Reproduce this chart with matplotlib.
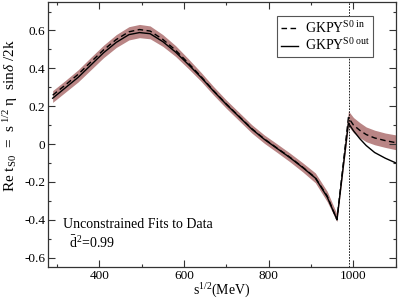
import numpy as np
import matplotlib
matplotlib.use('Agg')
import matplotlib.pyplot as plt
from matplotlib.ticker import MultipleLocator

plt.rcParams['font.family'] = ['Liberation Serif', 'DejaVu Serif']
plt.rcParams['mathtext.fontset'] = 'custom'
plt.rcParams['mathtext.rm'] = 'Liberation Serif'
plt.rcParams['mathtext.it'] = 'Liberation Serif:italic'

# sqrt(s) in MeV
energy = [290, 320, 350, 380, 410, 440, 470, 495, 520, 550, 580, 610, 640, 670, 700,
          730, 760, 790, 820, 850, 880, 910, 938, 961, 988, 1000, 1015, 1030, 1050, 1075, 1100]
gkpy_in = [0.258, 0.312, 0.368, 0.433, 0.497, 0.552, 0.593, 0.605, 0.597, 0.553, 0.496,
           0.428, 0.357, 0.281, 0.211, 0.146, 0.081, 0.026, -0.022, -0.070, -0.122, -0.178,
           -0.275, -0.400, 0.140, 0.100, 0.072, 0.050, 0.032, 0.018, 0.007]
gkpy_out = [0.242, 0.297, 0.352, 0.417, 0.482, 0.537, 0.578, 0.589, 0.583, 0.541, 0.486,
            0.421, 0.353, 0.279, 0.209, 0.144, 0.079, 0.024, -0.024, -0.072, -0.124, -0.180,
            -0.280, -0.400, 0.110, 0.070, 0.028, -0.008, -0.045, -0.075, -0.100]
band_hi = [0.282, 0.336, 0.392, 0.458, 0.522, 0.578, 0.620, 0.632, 0.624, 0.578, 0.520,
           0.451, 0.379, 0.303, 0.232, 0.167, 0.102, 0.047, 0.000, -0.048, -0.099, -0.153,
           -0.250, -0.370, 0.175, 0.140, 0.113, 0.090, 0.073, 0.058, 0.048]
band_lo = [0.220, 0.274, 0.328, 0.392, 0.456, 0.510, 0.550, 0.562, 0.556, 0.516, 0.463,
           0.399, 0.332, 0.258, 0.188, 0.123, 0.058, 0.003, -0.045, -0.094, -0.147, -0.205,
           -0.305, -0.410, 0.095, 0.060, 0.033, 0.012, -0.004, -0.018, -0.030]
kk_threshold = 990

fig = plt.figure(figsize=(3.98, 3.0), dpi=100)
ax = fig.add_axes([0.1206, 0.11, 0.874, 0.883])

ax.fill_between(energy, band_lo, band_hi, color='#b98585', lw=0)
ax.plot(energy, gkpy_in, color='black', lw=1.0, ls=(0, (4, 2.5)), label=r'GKPY$^{\rm S0\ in}$')
ax.plot(energy, gkpy_out, color='black', lw=1.0, label=r'GKPY$^{\rm S0\ out}$')
ax.axvline(kk_threshold, color='black', lw=0.6, ls=(0, (2, 1.5)))

ax.set_xlim(279, 1100)
ax.set_ylim(-0.65, 0.75)
ax.set_xticks([400, 600, 800, 1000])
ax.set_yticks([-0.6, -0.4, -0.2, 0, 0.2, 0.4, 0.6])
ax.set_yticklabels(['-0.6', '-0.4', '-0.2', '0', '0.2', '0.4', '0.6'])
ax.xaxis.set_minor_locator(MultipleLocator(100))
ax.yaxis.set_minor_locator(MultipleLocator(0.1))
ax.tick_params(which='both', direction='in', top=True, right=True, colors='#333333',
               labelcolor='black', labelsize=9.5, width=0.8, pad=2)
ax.tick_params(which='major', length=5)
ax.tick_params(which='minor', length=2.5)
for sp in ax.spines.values():
    sp.set_color('#333333')
    sp.set_linewidth(0.9)

ax.set_xlabel(r'$\rm s^{1/2}$(MeV)', fontsize=10, labelpad=0)
ax.set_ylabel(r'Re $\rm t_{S0}$  =  $\rm s^{\ 1/2}\ \eta$  sin$\delta$ /2k', fontsize=11)
ax.yaxis.set_label_coords(-0.08, 0.57)

ax.text(0.042, 0.146, 'Unconstrained Fits to Data', transform=ax.transAxes, fontsize=10)
ax.text(0.06, 0.072, r'$\rm \bar{d}^2$=0.99', transform=ax.transAxes, fontsize=10)

leg = ax.legend(loc='upper right', bbox_to_anchor=(0.934, 0.947), borderaxespad=0,
                fontsize=10, fancybox=False, framealpha=1, edgecolor='#555555',
                handlelength=1.2, handletextpad=0.5, borderpad=0.25, labelspacing=0.15)
leg.get_frame().set_linewidth(0.8)

fig.savefig('out.png', dpi=100)
